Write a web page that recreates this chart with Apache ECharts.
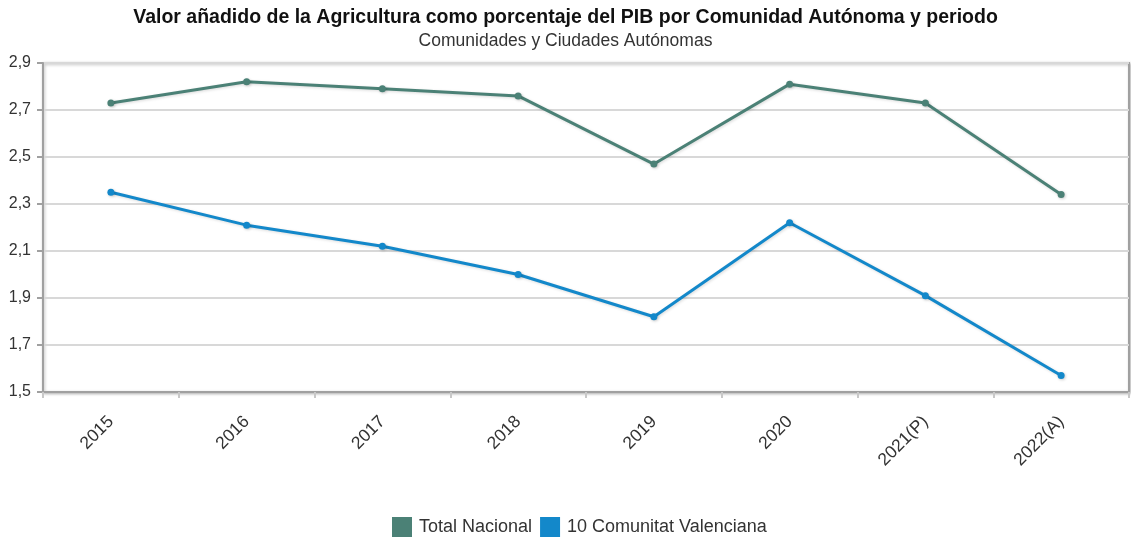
<!DOCTYPE html>
<html>
<head>
<meta charset="utf-8">
<script src="https://cdn.jsdelivr.net/npm/echarts@6/dist/echarts.min.js"></script>
<style>html,body{margin:0;padding:0;background:#fff}#c{width:1131px;height:540px}</style>
</head>
<body>
<div id="c"></div>
<script>
const categories = ['2015','2016','2017','2018','2019','2020','2021(P)','2022(A)'];
const totalNacional = [2.73, 2.82, 2.79, 2.76, 2.47, 2.81, 2.73, 2.34];
const valenciana = [2.35, 2.21, 2.12, 2.00, 1.82, 2.22, 1.91, 1.57];
const seriesNames = ['Total Nacional', '10 Comunitat Valenciana'];
const titleText = 'Valor añadido de la Agricultura como porcentaje del PIB por Comunidad Autónoma y periodo';
const subtitleText = 'Comunidades y Ciudades Autónomas';

const colors = ['#4B8176', '#1388CA'];
const font = 'Liberation Sans, Arial, sans-serif';
const chart = echarts.init(document.getElementById('c'));
function mkSeries(name, data, color) {
  return {
    name: name, type: 'line', data: data,
    symbol: 'circle', symbolSize: 7,
    lineStyle: { width: 3, color: color, shadowColor: 'rgba(0,0,0,0.15)', shadowBlur: 3, shadowOffsetX: 1, shadowOffsetY: 1 },
    itemStyle: { color: color, shadowColor: 'rgba(0,0,0,0.2)', shadowBlur: 3, shadowOffsetX: 1, shadowOffsetY: 1 },
    emphasis: { disabled: true }
  };
}
chart.setOption({
  animation: false,
  color: colors,
  textStyle: { fontFamily: font },
  title: {
    text: titleText, subtext: subtitleText, left: 'center', top: 3, itemGap: 4,
    textStyle: { fontFamily: font, fontSize: 19.5, fontWeight: 'bold', color: '#111' },
    subtextStyle: { fontFamily: font, fontSize: 17.5, color: '#333' }
  },
  legend: {
    bottom: 3, left: 392, itemWidth: 20, itemHeight: 20, itemGap: 8, padding: 0,
    icon: 'rect',
    textStyle: { fontFamily: font, fontSize: 18, color: '#333', padding: [0,0,0,2] },
    data: seriesNames
  },
  grid: {
    left: 43, right: 2, top: 63, bottom: 148,
    show: true, borderColor: '#a0a0a0', borderWidth: 2,
    shadowColor: 'rgba(0,0,0,0.25)', shadowBlur: 3, shadowOffsetX: 1, shadowOffsetY: 1,
    backgroundColor: '#fff'
  },
  xAxis: {
    type: 'category', data: categories, boundaryGap: true,
    axisLine: { lineStyle: { color: '#a0a0a0', width: 2 } },
    axisTick: { show: true, length: 6, interval: 0, lineStyle: { color: '#c8c8c8', width: 2 } },
    axisLabel: { rotate: 45, interval: 0, fontSize: 17.5, color: '#333', fontFamily: font, margin: 27 },
    splitLine: { show: false }
  },
  yAxis: {
    type: 'value', min: 1.5, max: 2.9, interval: 0.2,
    axisLine: { show: true, lineStyle: { color: '#a0a0a0', width: 2 } },
    axisTick: { show: true, length: 6, lineStyle: { color: '#a0a0a0', width: 2 } },
    axisLabel: { fontSize: 16, color: '#333', fontFamily: font, margin: 12,
      formatter: v => v.toFixed(1).replace('.', ',') },
    splitLine: { lineStyle: { color: '#d8d8d8', width: 2 } }
  },
  series: [
    mkSeries(seriesNames[0], totalNacional, colors[0]),
    mkSeries(seriesNames[1], valenciana, colors[1])
  ]
});
</script>
</body>
</html>
